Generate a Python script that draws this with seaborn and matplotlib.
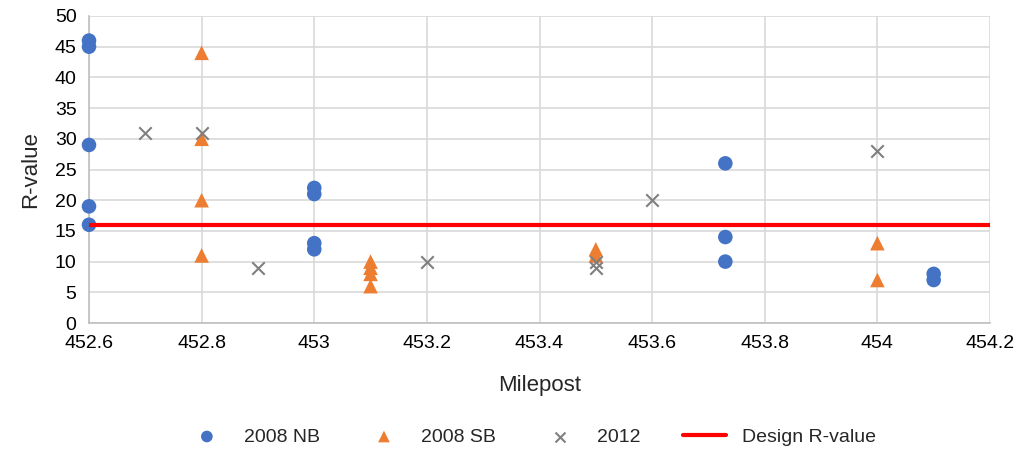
import matplotlib
matplotlib.use("Agg")
import matplotlib.pyplot as plt
import seaborn as sns
import pandas as pd

nb_x = [452.6, 452.6, 452.6, 452.6, 452.6, 453.0, 453.0, 453.0, 453.0, 453.73, 453.73, 453.73, 454.1, 454.1]
nb_y = [46, 45, 29, 19, 16, 22, 21, 13, 12, 26, 14, 10, 8, 7]
sb_x = [452.8, 452.8, 452.8, 452.8, 453.1, 453.1, 453.1, 453.1, 453.5, 453.5, 454.0, 454.0]
sb_y = [44, 30, 20, 11, 10, 9, 8, 6, 12, 11, 13, 7]
y12_x = [452.7, 452.8, 452.9, 453.2, 453.5, 453.5, 453.6, 454.0]
y12_y = [31, 31, 9, 10, 10, 9, 20, 28]
design_x = [452.6, 454.2]
design_y = [16, 16]

sns.set_theme(style="white")
plt.rcParams['font.family'] = ['Liberation Sans', 'DejaVu Sans']

fig = plt.figure(figsize=(10.19, 4.51), dpi=100)
ax = fig.add_axes([89/1019, 1 - 323/451, (990-89)/1019, (323-16)/451])

sns.scatterplot(x=nb_x, y=nb_y, ax=ax, color="#4472C4", marker="o", s=110, edgecolor="none", label="2008 NB", zorder=3, clip_on=False)
sns.scatterplot(x=sb_x, y=sb_y, ax=ax, color="#ED7D31", marker="^", s=110, edgecolor="none", label="2008 SB", zorder=3, clip_on=False)
sns.scatterplot(x=y12_x, y=y12_y, ax=ax, color="#7F7F7F", marker="x", s=80, linewidth=1.5, label="2012", zorder=4, clip_on=False)
sns.lineplot(x=design_x, y=design_y, ax=ax, color="#FF0000", linewidth=3, label="Design R-value", zorder=5)

ax.set_xlim(452.6, 454.2)
ax.set_ylim(0, 50)
xt = [452.6, 452.8, 453.0, 453.2, 453.4, 453.6, 453.8, 454.0, 454.2]
ax.set_xticks(xt)
ax.set_xticklabels(["452.6", "452.8", "453", "453.2", "453.4", "453.6", "453.8", "454", "454.2"])
ax.set_yticks(range(0, 51, 5))
ax.grid(True, color="#D9D9D9", linewidth=1.2)
ax.set_axisbelow(True)
for s in ["top", "right"]:
    ax.spines[s].set_visible(False)
for s in ["left", "bottom"]:
    ax.spines[s].set_color("#BFBFBF")
    ax.spines[s].set_linewidth(1.2)
ax.tick_params(axis="both", labelsize=14, colors="#000000", length=0, pad=9)
ax.set_xlabel("Milepost", fontsize=16, labelpad=16)
ax.set_ylabel("R-value", fontsize=16, labelpad=10)

handles, labels = ax.get_legend_handles_labels()
ax.legend(handles, labels, loc="upper center", bbox_to_anchor=(0.49, -0.285), ncol=4, frameon=False,
          fontsize=14, columnspacing=2.2, handletextpad=0.8, markerscale=0.8, handlelength=2.2)

fig.savefig("out.png", dpi=100)
